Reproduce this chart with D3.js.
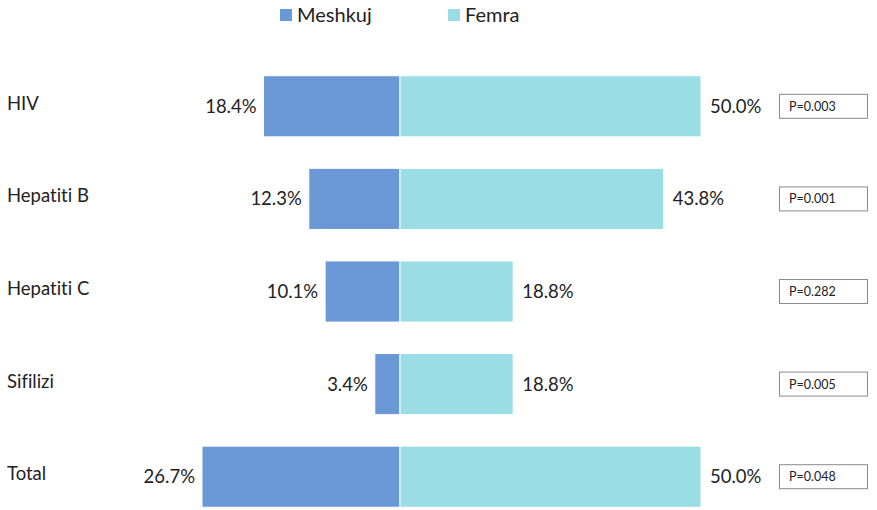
<!DOCTYPE html>
<html><head><meta charset="utf-8">
<script src="https://cdn.jsdelivr.net/npm/d3@7"></script>
<style>body{margin:0;background:#fff;} svg{display:block;} text{font-variant-ligatures:none;font-feature-settings:"liga" 0;}</style>
</head><body>
<script>
const categories = ["HIV", "Hepatiti B", "Hepatiti C", "Sifilizi", "Total"];
const male = [18.4, 12.3, 10.1, 3.4, 26.7];
const female = [50.0, 43.8, 18.8, 18.8, 50.0];
const pValues = ["P=0.003", "P=0.001", "P=0.282", "P=0.005", "P=0.048"];
const seriesNames = ["Meshkuj", "Femra"];
const colors = ["#6A97D5", "#9ADDE4"];

const W = 877, H = 510;
const svg = d3.select("body").append("svg").attr("width", W).attr("height", H);
const font = "Lato, 'Open Sans', sans-serif";

const y = d3.scaleBand().domain(categories).range([60, 523]).paddingInner(0.34).paddingOuter(0.17);
const xM = d3.scaleLinear().domain([0, 26.7]).range([400, 202]);
const xF = d3.scaleLinear().domain([0, 50]).range([400, 701]);

const rows = categories.map((c, i) => ({c, m: male[i], f: female[i], p: pValues[i]}));

svg.selectAll("rect.m").data(rows).join("rect").attr("class", "m")
  .attr("x", d => xM(d.m)).attr("y", d => y(d.c))
  .attr("width", d => xM(0) - xM(d.m)).attr("height", y.bandwidth())
  .attr("fill", colors[0]).attr("stroke", "#fff").attr("stroke-width", 1);
svg.selectAll("rect.f").data(rows).join("rect").attr("class", "f")
  .attr("x", xF(0)).attr("y", d => y(d.c))
  .attr("width", d => xF(d.f) - xF(0)).attr("height", y.bandwidth())
  .attr("fill", colors[1]).attr("stroke", "#fff").attr("stroke-width", 1);

const fmt = v => v.toFixed(1) + "%";
svg.selectAll("text.ml").data(rows).join("text").attr("class", "ml")
  .attr("x", d => xM(d.m) - 7).attr("y", d => y(d.c) + y.bandwidth() / 2 + 6.5)
  .attr("text-anchor", "end").attr("font-family", font).attr("font-size", 18.5).attr("fill", "#222")
  .text(d => fmt(d.m));
svg.selectAll("text.fl").data(rows).join("text").attr("class", "fl")
  .attr("x", d => xF(d.f) + 9).attr("y", d => y(d.c) + y.bandwidth() / 2 + 6.5)
  .attr("text-anchor", "start").attr("font-family", font).attr("font-size", 18.5).attr("fill", "#222")
  .text(d => fmt(d.f));

svg.selectAll("text.cat").data(rows).join("text").attr("class", "cat")
  .attr("x", 7).attr("y", d => y(d.c) + y.bandwidth() / 2 + 3.5)
  .attr("font-family", font).attr("font-size", 18.5).attr("fill", "#222")
  .text(d => d.c);

const pg = svg.selectAll("g.p").data(rows).join("g").attr("class", "p")
  .attr("transform", d => `translate(779, ${y(d.c) + y.bandwidth() / 2 - 12.5})`);
pg.append("rect").attr("x", 0.5).attr("y", 0.5).attr("width", 88).attr("height", 24)
  .attr("fill", "#fff").attr("stroke", "#8a8a8a").attr("stroke-width", 1);
pg.append("text").attr("x", 10).attr("y", 17).attr("font-family", font).attr("font-size", 12.5)
  .attr("fill", "#222").text(d => d.p);

const lx = [280, 448];
seriesNames.forEach((n, i) => {
  svg.append("rect").attr("x", lx[i]).attr("y", 9).attr("width", 12).attr("height", 12).attr("fill", colors[i]);
  svg.append("text").attr("x", lx[i] + 17).attr("y", 22).attr("font-family", font).attr("font-size", 20)
    .attr("fill", "#222").text(n);
});
</script>
</body></html>
